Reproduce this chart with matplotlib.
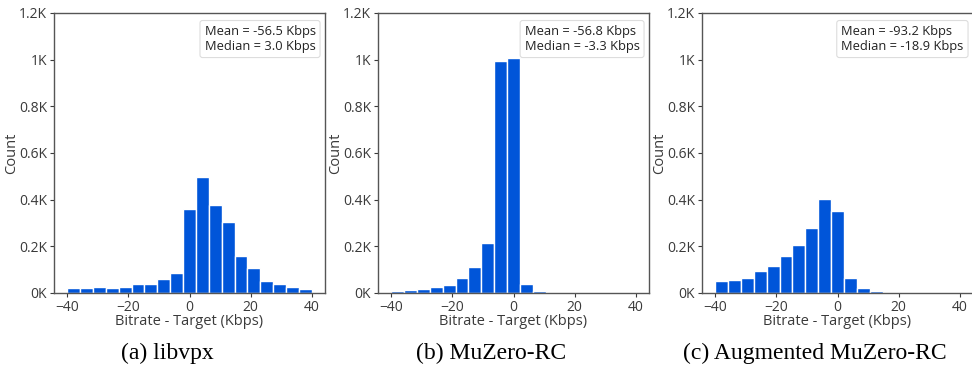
import numpy as np
import matplotlib
matplotlib.use("Agg")
import matplotlib.pyplot as plt
from matplotlib.ticker import FuncFormatter

plt.rcParams['font.family'] = ['Open Sans', 'DejaVu Sans']

# 19 equal-width bins spanning [-40, 40]
bin_edges = np.linspace(-40, 40, 20)

counts_libvpx = [21, 21, 24, 21, 27, 39, 37, 61, 87, 360, 499, 378, 305, 159, 107, 50, 37, 27, 19]
counts_muzero = [9, 13, 17, 24, 34, 64, 113, 216, 996, 1007, 39, 9, 0, 0, 0, 0, 0, 0, 0]
counts_aug = [53, 56, 63, 94, 116, 157, 207, 277, 403, 351, 64, 21, 9, 0, 0, 0, 0, 0, 0]

series = [counts_libvpx, counts_muzero, counts_aug]
stats_text = ["Mean = -56.5 Kbps\nMedian = 3.0 Kbps",
              "Mean = -56.8 Kbps\nMedian = -3.3 Kbps",
              "Mean = -93.2 Kbps\nMedian = -18.9 Kbps"]
captions = ["(a) libvpx", "(b) MuZero-RC", "(c) Augmented MuZero-RC"]
xticks = [-40, -20, 0, 20, 40]
yticks = [0, 200, 400, 600, 800, 1000, 1200]

W, H = 972, 369
fig = plt.figure(figsize=(W / 100, H / 100), dpi=100)

lefts = [54, 378, 702]
caption_centers = [167, 491, 815]
width = 271
top, bottom = 13, 293
bar_color = '#0055d9'
text_color = '#3a3a3a'

def kfmt(v, pos):
    s = f"{v/1000:.1f}".rstrip('0').rstrip('.')
    return s + "K"

for i, (counts, txt, cap) in enumerate(zip(series, stats_text, captions)):
    ax = fig.add_axes([lefts[i] / W, (H - bottom) / H, width / W, (bottom - top) / H])
    centers = (bin_edges[:-1] + bin_edges[1:]) / 2
    widths = np.diff(bin_edges)
    ax.bar(centers, counts, width=widths, color=bar_color, edgecolor='white', linewidth=1.0)
    ax.set_xlim(-44.3, 44.3)
    ax.set_ylim(0, 1200)
    ax.set_xticks(xticks)
    ax.set_yticks(yticks)
    ax.yaxis.set_major_formatter(FuncFormatter(kfmt))
    ax.xaxis.set_major_formatter(FuncFormatter(lambda v, p: f"{int(v)}".replace('-', '\u2212')))
    ax.tick_params(labelsize=10, colors=text_color, length=3, width=0.8, pad=2)
    for sp in ax.spines.values():
        sp.set_color('#555555')
        sp.set_linewidth(1.0)
    ax.set_xlabel("Bitrate - Target (Kbps)", fontsize=10.5, color=text_color, labelpad=-1)
    ax.set_ylabel("Count", fontsize=10.5, color=text_color, labelpad=0)
    ax.text(0.965, 0.957, txt, transform=ax.transAxes, ha='right', va='top',
            fontsize=9.3, color='#222222', linespacing=1.2, multialignment='left',
            bbox=dict(boxstyle='round,pad=0.35,rounding_size=0.2', fc='white', ec='#dddddd', lw=0.8))
    fig.text(caption_centers[i] / W, 1 - 353 / H, cap, ha='center', va='center',
             fontsize=17, family='Liberation Serif', color='black')

fig.savefig("out.png", dpi=100)
